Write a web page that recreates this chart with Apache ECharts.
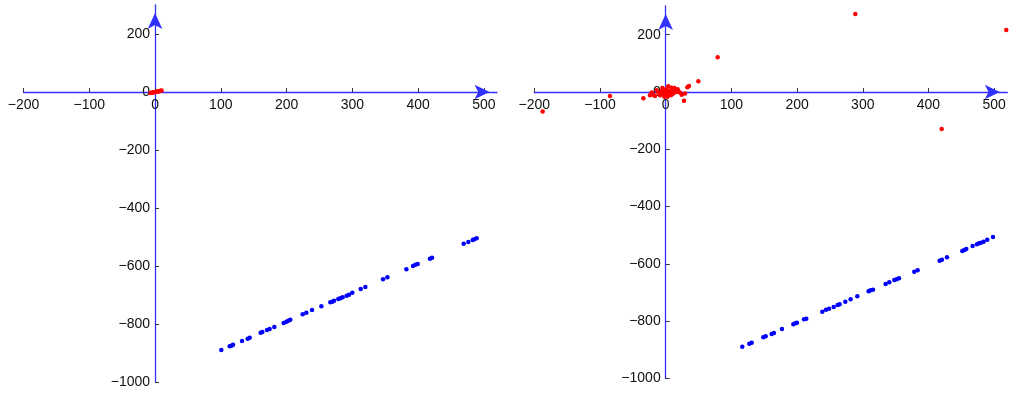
<!DOCTYPE html>
<html>
<head>
<meta charset="utf-8">
<script src="https://cdn.jsdelivr.net/npm/echarts@6/dist/echarts.min.js"></script>
<style>
html,body{margin:0;padding:0;background:#fff;}
#c{width:1024px;height:402px;}
</style>
</head>
<body>
<div id="c"></div>
<script>
// tick labels
const xTicks = [-200, -100, 0, 100, 200, 300, 400, 500];
const yTicks = [-1000, -800, -600, -400, -200, 0, 200];

// left panel: red cluster near origin
const leftRed = [[-7,-3.5],[-5.5,-2.8],[-4,-2],[-2.5,-1],[-1,-0.5],[0.5,0.4],[1.8,1],[3,1.2],[4.5,2.1],[5.5,2.8],[7,3.2],[8.5,4],[10,4.8]];

// left panel: blue points
const leftBlue = [[100.8,-889.7],[113.5,-877.0],[116.0,-874.7],[118.6,-871.3],[132.3,-858.6],[140.9,-850.6],[143.9,-847.1],
[160.6,-829.9],[163.2,-827.6],[170.3,-820.7],[174.3,-817.2],[181.4,-810.3],[195.6,-796.6],[199.7,-792.0],[202.7,-788.5],
[205.7,-785.1],[224.5,-766.7],[230.1,-761.0],[238.7,-751.7],[252.9,-739.1],[266.6,-725.3],[269.6,-723.0],[272.2,-719.5],
[278.7,-713.8],[281.8,-711.5],[285.3,-708.0],[291.4,-702.3],[295.0,-698.9],[300.0,-692.0],[312.7,-679.3],[319.8,-672.4],
[346.7,-646.0],[353.3,-639.1],[382.2,-611.5],[392.3,-600.0],[395.8,-595.4],[399.4,-593.1],[418.1,-574.7],[421.2,-571.3],
[469.3,-523.0],[476.4,-517.2],[483.0,-510.3],[485.5,-508.0],[489.1,-504.6]];

// right panel: red points
const rightRed = [[-23.9,-11.6],[-21.4,-2.3],[-18.8,-9.3],[-16.3,-14],[-11.2,-2.3],[-8.6,-11.6],[-6.1,2.3],[-3.6,-7],[-1.1,0],
[1.5,-9.3],[4,4.7],[6.6,-2.3],[9.1,2.3],[11.6,-5.8],[14.2,5.8],[16.7,0],[19.2,2.3],[21.8,-2.3],[24.3,-9.3],[-13.7,5.8],
[-2.1,-16.3],[3,-16.3],[8.1,-11.6],[0,9.3],[13.2,14],[18.2,9.3],[-5.1,14],[9.1,15],[4,19.8],[35.5,21],[33,16.3],[29.4,-5.8],
[27.9,-31],[49.7,37.2],[79.1,121],[-34,-22],[-84.8,-14],[-187.3,-68.6],[288.6,272.3],[518.4,216.4],[420.1,-129.1]];

// right panel: blue points
const rightBlue = [[116.6,-888.9],[127.3,-878.4],[130.9,-874.9],[148.6,-856.3],[152.2,-852.8],[161.3,-844.7],[164.8,-841.2],
[177.0,-827.2],[194.3,-810.9],[197.3,-807.4],[199.8,-805.1],[210.5,-793.5],[214.0,-791.2],[238.4,-766.7],[244.0,-759.8],
[248.6,-756.3],[255.7,-750.4],[261.7,-743.5],[264.8,-741.1],[273.4,-731.8],[281.5,-723.7],[291.7,-713.2],[308.9,-695.8],
[312.0,-692.3],[315.5,-689.9],[334.8,-670.2],[340.4,-664.3],[348.0,-656.2],[351.6,-653.9],[355.1,-650.4],[378.4,-627.1],
[383.5,-622.4],[417.0,-588.7],[420.5,-585.2],[428.2,-577.1],[451.5,-555.0],[454.5,-551.5],[457.6,-548.0],[467.2,-537.5],
[473.8,-531.7],[476.9,-528.2],[479.9,-525.9],[484.0,-522.4],[489.5,-515.4],[498.2,-506.1]];

const X_MIN = -200, X_MAX = 520, Y_MIN = -1000, Y_MAX = 300;
const grids = [
  {left: 23.5, top: 5, width: 473.5, height: 377},
  {left: 534.3, top: 6, width: 473, height: 372.5}
];

const fmt = v => (v < 0 ? '\u2212' + Math.abs(v) : String(v));
const lineColor = '#3030ff';
const labelStyle = {fontFamily: 'Liberation Sans, Arial, sans-serif', fontSize: 14, color: '#111'};

function xAxisDef(gi) {
  const g = grids[gi];
  // shift the x axis from the grid bottom up to y = 0
  const off = -((0 - Y_MIN) / (Y_MAX - Y_MIN)) * g.height;
  return {
    type: 'value', gridIndex: gi, min: X_MIN, max: X_MAX, position: 'bottom', offset: off,
    splitLine: {show: false},
    axisLine: {onZero: false, lineStyle: {color: lineColor, width: 1.3}, symbol: ['none', 'arrow'], symbolSize: [11, 15], symbolOffset: [0, -7.5]},
    axisTick: {inside: true, length: 4, lineStyle: {color: '#333'}, customValues: xTicks},
    axisLabel: Object.assign({margin: 6, formatter: fmt, customValues: xTicks}, labelStyle)
  };
}
function yAxisDef(gi) {
  const g = grids[gi];
  // shift the y axis from the grid left edge right to x = 0
  const off = -((0 - X_MIN) / (X_MAX - X_MIN)) * g.width;
  return {
    type: 'value', gridIndex: gi, min: Y_MIN, max: Y_MAX, position: 'left', offset: off,
    splitLine: {show: false},
    axisLine: {onZero: false, lineStyle: {color: lineColor, width: 1.3}, symbol: ['none', 'arrow'], symbolSize: [11, 16], symbolOffset: [0, -8]},
    axisTick: {inside: true, length: 4, lineStyle: {color: '#333'}, customValues: yTicks},
    axisLabel: Object.assign({margin: 5, formatter: fmt, customValues: yTicks}, labelStyle)
  };
}

const chart = echarts.init(document.getElementById('c'), null, {renderer: 'canvas'});
chart.setOption({
  animation: false,
  backgroundColor: '#fff',
  grid: grids.map(g => Object.assign({containLabel: false, outerBoundsMode: 'none'}, g)),
  xAxis: [xAxisDef(0), xAxisDef(1)],
  yAxis: [yAxisDef(0), yAxisDef(1)],
  series: [
    {type: 'scatter', xAxisIndex: 0, yAxisIndex: 0, data: leftBlue, symbolSize: 4.5, itemStyle: {color: '#0000ff', opacity: 1}},
    {type: 'scatter', xAxisIndex: 0, yAxisIndex: 0, data: leftRed, symbolSize: 4.5, itemStyle: {color: '#ff0000', opacity: 1}},
    {type: 'scatter', xAxisIndex: 1, yAxisIndex: 1, data: rightBlue, symbolSize: 4.5, itemStyle: {color: '#0000ff', opacity: 1}},
    {type: 'scatter', xAxisIndex: 1, yAxisIndex: 1, data: rightRed, symbolSize: 4.5, itemStyle: {color: '#ff0000', opacity: 1}}
  ]
});
</script>
</body>
</html>
